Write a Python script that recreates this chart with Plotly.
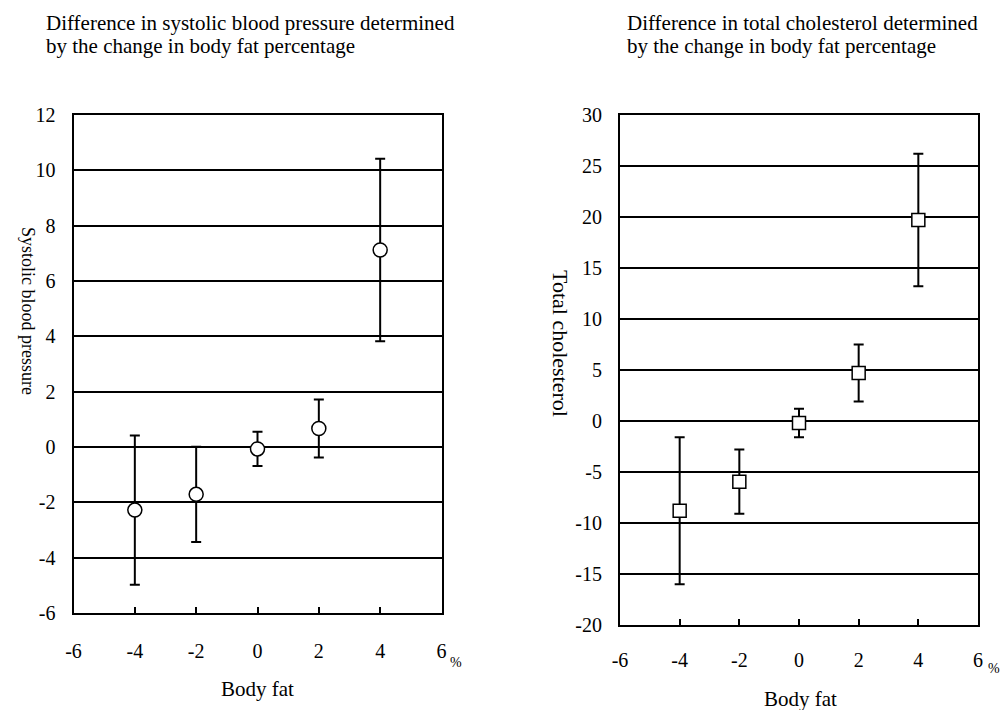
import plotly.graph_objects as go

# Data
body_fat = [-4, -2, 0, 2, 4]
sbp_diff = [-2.28, -1.71, -0.07, 0.67, 7.12]
sbp_err = [2.7, 1.72, 0.62, 1.05, 3.3]
chol_diff = [-8.8, -5.95, -0.2, 4.7, 19.7]
chol_err = [7.2, 3.15, 1.4, 2.8, 6.5]

x_ticks = [-6, -4, -2, 0, 2, 4, 6]
sbp_ticks = [-6, -4, -2, 0, 2, 4, 6, 8, 10, 12]
chol_ticks = [-20, -15, -10, -5, 0, 5, 10, 15, 20, 25, 30]

title_left = ["Difference in systolic blood pressure determined", "by the change in body fat percentage"]
title_right = ["Difference in total cholesterol determined", "by the change in body fat percentage"]

FONT = "Liberation Serif"
W, H = 1005, 710

fig = go.Figure()
fig.add_trace(go.Scatter(
    x=body_fat, y=sbp_diff, mode="markers", xaxis="x", yaxis="y",
    marker=dict(symbol="circle", size=14, color="white", line=dict(color="black", width=1.5)),
    error_y=dict(type="data", array=sbp_err, color="black", thickness=2, width=5),
    showlegend=False, cliponaxis=False))
fig.add_trace(go.Scatter(
    x=body_fat, y=chol_diff, mode="markers", xaxis="x2", yaxis="y2",
    marker=dict(symbol="square", size=13, color="white", line=dict(color="black", width=1.5)),
    error_y=dict(type="data", array=chol_err, color="black", thickness=2, width=5),
    showlegend=False, cliponaxis=False))

def xax(domain, anchor, standoff):
    return dict(domain=domain, anchor=anchor, range=[-6, 6], tickmode="array",
                tickvals=x_ticks, ticktext=[str(v) for v in x_ticks],
                showgrid=False, zeroline=False, showline=True, mirror=True,
                linecolor="black", linewidth=2, ticks="inside", ticklen=6,
                tickwidth=2, tickcolor="black", ticklabelstandoff=standoff,
                tickfont=dict(family=FONT, size=20, color="black"))

def yax(domain, anchor, rng, ticks, standoff):
    return dict(domain=domain, anchor=anchor, range=rng, tickmode="array",
                tickvals=ticks, ticktext=[str(v) for v in ticks],
                showgrid=True, gridcolor="black", gridwidth=1.5, zeroline=False,
                showline=True, mirror=True, linecolor="black", linewidth=2,
                ticks="", ticklabelstandoff=standoff,
                tickfont=dict(family=FONT, size=20, color="black"))

fig.update_layout(
    width=W, height=H, margin=dict(l=0, r=0, t=0, b=0, autoexpand=False),
    paper_bgcolor="white", plot_bgcolor="white",
    xaxis=xax([73.5 / W, 441.5 / W], "y", 19),
    yaxis=yax([(H - 613) / H, (H - 115) / H], "x", [-6, 12], sbp_ticks, 12),
    xaxis2=xax([620 / W, 978 / W], "y2", 16),
    yaxis2=yax([(H - 625) / H, (H - 115) / H], "x2", [-20, 30], chol_ticks, 12),
)

def ann(text, x, y, size=21, angle=0, xanchor="center", yanchor="middle"):
    fig.add_annotation(text=text, x=x / W, y=1 - y / H, xref="paper", yref="paper",
                       showarrow=False, textangle=angle, xanchor=xanchor, yanchor=yanchor,
                       font=dict(family=FONT, size=size, color="black"))

ann(title_left[0], 44, 23, xanchor="left")
ann(title_left[1], 44, 46, xanchor="left")
ann(title_right[0], 625, 23, xanchor="left")
ann(title_right[1], 625, 46, xanchor="left")
ann("Systolic blood pressure", 28, 311, size=18, angle=90)
ann("Total cholesterol", 561, 343, size=22, angle=90)
ann("Body fat", 257.5, 689)
ann("Body fat", 800, 699)
ann("%", 456, 662, size=14)
ann("%", 994, 668, size=14)

fig.write_html("out.html", config={"displayModeBar": False},
               post_script="document.body.style.margin='0px';")
